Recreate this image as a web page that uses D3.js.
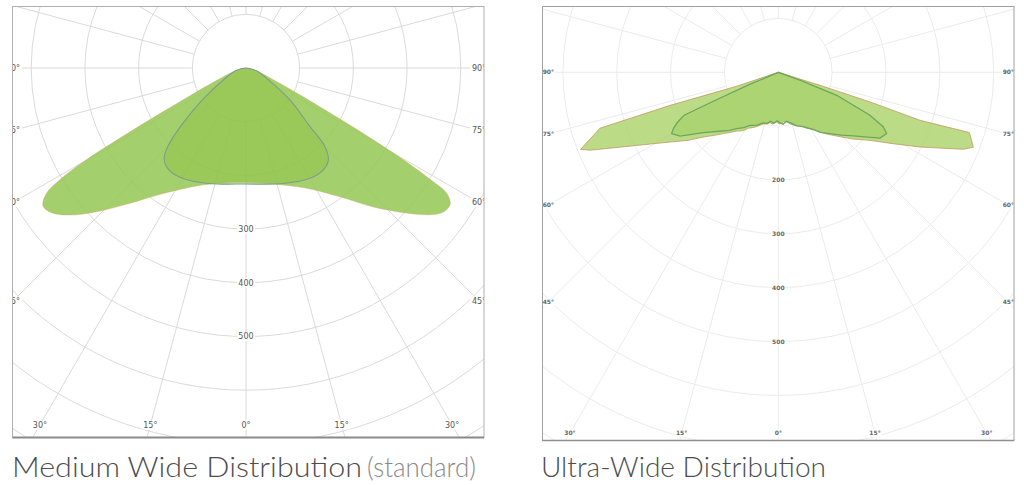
<!DOCTYPE html>
<html><head><meta charset="utf-8">
<script src="https://cdn.jsdelivr.net/npm/d3@7"></script>
<style>
html,body{margin:0;padding:0;background:#fff;}
svg{display:block;}
</style></head>
<body>
<svg id="chart" width="1024" height="485"></svg>
<script>
// ---------- DATA ----------
const ringValues = [100,200,300,400,500,600,700,800,900,1000];
const spokeAngles = d3.range(0,360,15);
const angleTicks = [-90,-75,-60,-45,-30,-15,0,15,30,45,60,75,90];
const leftRingLabels = [300,400,500];
const rightRingLabels = [200,300,400,500];

// Medium Wide Distribution (angle from nadir in degrees, negative = left; candela)
const leftOuterAngles = [-90,-74,-67,-63.5,-61.8,-60.8,-60,-59,-57.8,-55.8,-53.5,-50.1,-46.1,-40.6,-33.4,-22.7,-14.3,0,13.2,26.8,36.1,42.5,47.9,51.4,53.9,56.3,58,58.8,59.6,60.5,61.5,63.2,66.5,74];
const leftOuterValues = [0,22,60,120,200,280,350,405,440,457,452,427,386,332,280,238,222,213,222,251,297,351,403,438,455,457,441,403,350,278,200,122,58,22];
const leftInnerAngles = [-90,-75,-63,-54,-48.5,-45,-42,-37,-30,-18,0,17.9,30.1,37.2,41.8,45.1,47.5,54,63.5,75];
const leftInnerValues = [0,20,45,100,160,205,228,238,237,226,216,226,237.5,238,230,207.6,161.7,101,43,20];

// Ultra-Wide Distribution
const rightOuterAngles = [-90,-71.5,-73,-72.6,-68.7,-67.5,-62.7,-57.2,-53,-49.2,-45.5,-41.9,-38,-35,-31,-28.2,-24,-21.7,-16.2,-12,-9.4,-6.2,-1.8,1,3.8,6.5,9.6,13,15.9,19,22,26.9,31.5,35.1,38.5,42.5,48,53.4,58,62.2,67.4,69,72.5,71.3,72.1,72.7];
const rightOuterValues = [0,82,210,347,394,378,296,239,210,184,167,153,141,133,126.5,118,112,108.7,100,98,94.9,96.6,92.4,96,94.9,91.5,93.6,98,101.8,104,107.6,116.6,124.2,134.8,147,160.5,185,212,250,297.5,372,388,372,278,179,81];
const rightInnerAngles = [-90,-67,-66,-65.5,-63.5,-61.8,-60.1,-57,-51.2,-44.7,-40,-36.4,-32,-28.1,-22,-16.6,-12,-9,-5,-1.5,2,5.4,9.6,13,16,18.6,24,31.1,35,40.1,45,49.7,54,57.1,60.5,62.5,64.9,68.5,70];
const rightInnerValues = [0,60,130,192,210,221,228.5,217.5,178.8,154,141,130,121,112,106,98,97,92,95,90,94,97,92,96,100,105,110,124,136,149,165,182.7,205,225,231,220,188,116.6,45];

const captions = ["Medium Wide Distribution", "(standard)", "Ultra-Wide Distribution"];

// ---------- DRAW ----------
const svg = d3.select("#chart");
const toRad = a => (180 - a) * Math.PI / 180; // 0 = straight down

function zipSeries(angles, values){ return angles.map((a,i)=>({a, v: values[i]})); }

function drawPolar(cfg){
  const g = svg.append("g");
  const clipId = "clip-" + cfg.id;
  svg.append("defs").append("clipPath").attr("id", clipId)
    .append("rect").attr("x", cfg.box[0]).attr("y", cfg.box[1])
    .attr("width", cfg.box[2]-cfg.box[0]).attr("height", cfg.box[3]-cfg.box[1]);
  g.append("rect").attr("x", cfg.box[0]).attr("y", cfg.box[1])
    .attr("width", cfg.box[2]-cfg.box[0]).attr("height", cfg.box[3]-cfg.box[1]).attr("fill","#fff");
  const inner = g.append("g").attr("clip-path", `url(#${clipId})`);
  const pg = inner.append("g").attr("transform", `translate(${cfg.cx},${cfg.cy})`);
  const r = d3.scaleLinear().domain([0,100]).range([0,cfg.px100]);

  pg.selectAll("circle.ring").data(ringValues).join("circle")
    .attr("r", d=>r(d)).attr("fill","none").attr("stroke",cfg.grid).attr("stroke-width",1);
  pg.selectAll("line.spoke").data(spokeAngles).join("line")
    .attr("x1", d=>r(100)*Math.sin(toRad(d))).attr("y1", d=>-r(100)*Math.cos(toRad(d)))
    .attr("x2", d=>r(1200)*Math.sin(toRad(d))).attr("y2", d=>-r(1200)*Math.cos(toRad(d)))
    .attr("stroke",cfg.grid).attr("stroke-width",1);

  const rl = pg.selectAll("g.rl").data(cfg.ringLabels).join("g")
    .attr("transform", d=>`translate(0,${r(d)})`);
  rl.append("rect").attr("x",-cfg.lblW/2).attr("y",-cfg.lblH/2).attr("width",cfg.lblW).attr("height",cfg.lblH).attr("fill","#fff");
  rl.append("text").text(d=>d).attr("text-anchor","middle").attr("dy","0.35em")
    .attr("font-family","DejaVu Sans, Verdana, sans-serif").attr("font-size",cfg.fs)
    .attr("font-weight",cfg.fw).attr("fill",cfg.lblColor);

  const pos = a => {
    const s = Math.sin(Math.abs(a)*Math.PI/180), c = Math.cos(Math.abs(a)*Math.PI/180);
    const t = Math.min(s>1e-6 ? cfg.ldx/s : Infinity, c>1e-6 ? cfg.ldy/c : Infinity);
    return [Math.sign(a)*t*s, t*c];
  };
  const al = pg.selectAll("g.al").data(angleTicks).join("g")
    .attr("transform", d=>{const p=pos(d); return `translate(${p[0]},${p[1]})`;});
  al.append("rect").attr("x",-cfg.lblW/2).attr("y",-cfg.lblH/2).attr("width",cfg.lblW).attr("height",cfg.lblH).attr("fill","#fff");
  al.append("text").text(d=>Math.abs(d)+"°").attr("text-anchor","middle").attr("dy","0.35em")
    .attr("font-family","DejaVu Sans, Verdana, sans-serif").attr("font-size",cfg.fs)
    .attr("font-weight",cfg.fw).attr("fill",cfg.lblColor);

  const line = d3.lineRadial().angle(d=>toRad(d.a)).radius(d=>r(d.v)).curve(cfg.curve);
  pg.append("path").datum(cfg.outer).attr("d", line)
    .attr("fill", cfg.outerFill).attr("fill-opacity", cfg.outerOp)
    .attr("stroke", cfg.outerStroke).attr("stroke-width", cfg.outerSW).attr("stroke-opacity",cfg.outerSO);
  pg.append("path").datum(cfg.inner).attr("d", line)
    .attr("fill", cfg.innerFill).attr("fill-opacity", cfg.innerOp)
    .attr("stroke", cfg.innerStroke).attr("stroke-width", cfg.innerSW);

  const [x0,y0,x1,y1] = cfg.box;
  g.append("rect").attr("x",x0).attr("y",y0).attr("width",x1-x0).attr("height",y1-y0)
    .attr("fill","none").attr("stroke",cfg.frame).attr("stroke-width",1);
  g.append("line").attr("x1",x0).attr("x2",x1).attr("y1",y1).attr("y2",y1)
    .attr("stroke",cfg.frameBottom).attr("stroke-width",cfg.frameBottomW);
}

drawPolar({
  id:"left", box:[12.5,6.5,484,437.5], cx:246, cy:68, px100:53.7,
  grid:"#dadada", ringLabels:leftRingLabels, ldx:233, ldy:357,
  fs:8, fw:"normal", lblColor:"#555", lblW:18, lblH:9,
  outer: zipSeries(leftOuterAngles,leftOuterValues),
  inner: zipSeries(leftInnerAngles,leftInnerValues),
  curve: d3.curveCatmullRomClosed.alpha(0.5),
  outerFill:"rgb(147,200,84)", outerOp:0.85, outerStroke:"#d99a5e", outerSW:0.7, outerSO:0.5,
  innerFill:"rgb(140,190,60)", innerOp:0.4, innerStroke:"#7a9f8a", innerSW:1.1,
  frame:"#b0b0b0", frameBottom:"#8a8a8a", frameBottomW:2
});

drawPolar({
  id:"right", box:[542.5,6.5,1014,440.5], cx:778.3, cy:72.3, px100:53.85,
  grid:"#ebebeb", ringLabels:rightRingLabels, ldx:230, ldy:361,
  fs:6, fw:"bold", lblColor:"#666", lblW:14, lblH:7,
  outer: zipSeries(rightOuterAngles,rightOuterValues),
  inner: zipSeries(rightInnerAngles,rightInnerValues),
  curve: d3.curveLinearClosed,
  outerFill:"rgb(170,210,104)", outerOp:0.8, outerStroke:"#c49a62", outerSW:1, outerSO:0.8,
  innerFill:"rgb(150,200,80)", innerOp:0.35, innerStroke:"#6aa85a", innerSW:1.3,
  frame:"#a0a0a0", frameBottom:"#909090", frameBottomW:1.5
});

const cap = svg.append("g").attr("font-family","Lato, 'Open Sans', sans-serif").attr("font-weight",300).attr("font-size",27);
cap.append("text").attr("x",12).attr("y",477).attr("fill","#4d4d4d").attr("textLength",350).attr("lengthAdjust","spacingAndGlyphs").text(captions[0]);
cap.append("text").attr("x",367).attr("y",477).attr("fill","#8a8a8a").attr("textLength",109).attr("lengthAdjust","spacingAndGlyphs").text(captions[1]);
cap.append("text").attr("x",541).attr("y",477).attr("fill","#4d4d4d").attr("textLength",285).attr("lengthAdjust","spacingAndGlyphs").text(captions[2]);
</script>
</body></html>
